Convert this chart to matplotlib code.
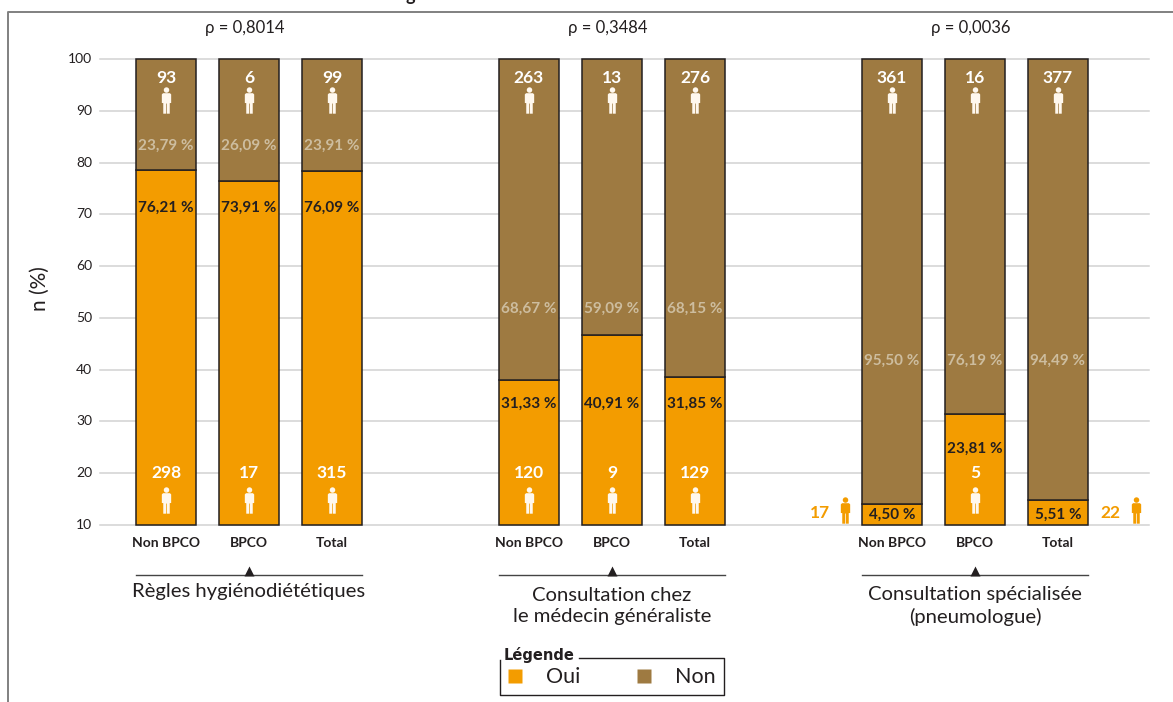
import matplotlib
matplotlib.use('Agg')
import matplotlib.pyplot as plt
from matplotlib.path import Path

W, H = 1173, 702
ORANGE = '#f39c00'
BROWN = '#9e7a41'
DARK = '#231f20'

groups = ['Règles hygiénodiététiques', 'Consultation chez\nle médecin généraliste',
          'Consultation spécialisée\n(pneumologue)']
rhos = ['ρ = 0,8014', 'ρ = 0,3484', 'ρ = 0,0036']
cats = ['Non BPCO', 'BPCO', 'Total']
oui_top = [78.5, 76.4, 78.4, 38.0, 46.7, 38.6, 14.0, 31.4, 14.8]
oui_pct = ['76,21 %', '73,91 %', '76,09 %', '31,33 %', '40,91 %', '31,85 %', '4,50 %', '23,81 %', '5,51 %']
non_pct = ['23,79 %', '26,09 %', '23,91 %', '68,67 %', '59,09 %', '68,15 %', '95,50 %', '76,19 %', '94,49 %']
oui_n = ['298', '17', '315', '120', '9', '129', '17', '5', '22']
non_n = ['93', '6', '99', '263', '13', '276', '361', '16', '377']
yticks = [10, 20, 30, 40, 50, 60, 70, 80, 90, 100]

# hauteur en pixels des etiquettes, barre par barre
non_label_px = [146] * 3 + [309] * 3 + [361] * 3
oui_label_px = [208] * 3 + [404] * 3 + [515, 449, 515]

SANS = ['Lato', 'DejaVu Sans']

# petit bonhomme, 1 unite = 1 pixel environ
person = Path.make_compound_path(
    Path.circle((0, 10.3), 2.7),
    Path([(-3.4, 7.2), (3.4, 7.2), (4.6, 6), (4.6, -2.5), (3.2, -2.5), (3.2, -13), (0.35, -13),
          (0.35, -3), (-0.35, -3), (-0.35, -13), (-3.2, -13), (-3.2, -2.5), (-4.6, -2.5),
          (-4.6, 6), (-3.4, 7.2)], closed=True))
PERSON_MS = 19


def py(p):
    return 100 - (p - 59) / 5.178


fig = plt.figure(figsize=(W / 100, H / 100), dpi=100)
ax = fig.add_axes([0, 0, 1, 1])
ax.set_xlim(0, W)
ax.set_ylim(py(H), py(0))
ax.axis('off')

# cadre : haut et gauche seulement
ax.plot([8, 8, W], [py(H), py(12), py(12)], color='#808080', lw=1.4, clip_on=False)

for t in yticks:
    ax.plot([100, 1149], [t, t], color='#d2d2d2', lw=1.1, zorder=1)
    ax.text(92, py(59) - (100 - t), str(t), ha='right', va='center', fontsize=10, family=SANS, color=DARK)
ax.text(40, py(289), 'n (%)', rotation=90, ha='center', va='center', fontsize=15, family=SANS, color=DARK)

centers = [166 + 363 * g + 83 * i for g in range(3) for i in range(3)]
for i, c in enumerate(centers):
    ax.bar(c, oui_top[i] - 10, bottom=10, width=60, color=ORANGE, edgecolor=DARK, lw=1.1, zorder=2)
    ax.bar(c, 100 - oui_top[i], bottom=oui_top[i], width=60, color=BROWN, edgecolor=DARK, lw=1.1, zorder=2)
    ax.text(c, py(78), non_n[i], ha='center', va='center', fontsize=12.5, weight='bold', family=SANS,
            color='white', zorder=3)
    ax.plot(c, py(100), marker=person, ms=PERSON_MS, mfc='#fff8ee', mec='none', zorder=3)
    ax.text(c, py(non_label_px[i]), non_pct[i], ha='center', va='center', fontsize=11, weight='bold',
            family=SANS, color='#cdbd9f', zorder=3)
    ax.text(c, py(oui_label_px[i]), oui_pct[i], ha='center', va='center', fontsize=11, weight='bold',
            family=SANS, color=DARK, zorder=3)
    if i not in (6, 8):
        ax.text(c, py(473), oui_n[i], ha='center', va='center', fontsize=12.5, weight='bold', family=SANS,
                color='white', zorder=3)
        ax.plot(c, py(500), marker=person, ms=PERSON_MS, mfc='#fff8ee', mec='none', zorder=3)
    ax.text(c, py(543), cats[i % 3], ha='center', va='center', fontsize=10, weight='bold', family=SANS, color=DARK)

# les deux effectifs hors barre
for i, xt, xp in [(6, 820, 844.5), (8, 1110, 1136)]:
    ax.text(xt, py(513), oui_n[i], ha='center', va='center', fontsize=12.5, weight='bold', family=SANS, color=ORANGE)
    ax.plot(xp, py(510), marker=person, ms=PERSON_MS, mfc=ORANGE, mec='none')

for g in range(3):
    c = centers[3 * g + 1]
    ax.text(c - 4, py(28), rhos[g], ha='center', va='center', fontsize=12, family=SANS, color=DARK)
    ax.plot([c - 113, c + 113], [py(575), py(575)], color='#444444', lw=1)
    ax.plot(c, py(570.5), marker='^', ms=7.5, color=DARK, mec='none')
    ax.text(c, py(592 if g == 0 else 606), groups[g], ha='center', va='center', fontsize=14.6,
            family=SANS, color=DARK, linespacing=1.35)

# legende
ax.plot([579, 724, 724, 500, 500], [py(658), py(658), py(695), py(695), py(660)], color=DARK, lw=1)
ax.text(504, py(655), 'Légende', ha='left', va='center', fontsize=10.5, weight='bold',
        family='DejaVu Sans', color=DARK)
ax.plot(515, py(676), marker='s', ms=9.5, color=ORANGE, mec='none')
ax.text(546, py(677), 'Oui', ha='left', va='center', fontsize=15.5, family=SANS, color=DARK)
ax.plot(643.5, py(676), marker='s', ms=9.5, color=BROWN, mec='none')
ax.text(675, py(677), 'Non', ha='left', va='center', fontsize=15.5, family=SANS, color=DARK)

# reste du titre coupe en haut
ax.text(410, py(-4), 'g', ha='center', va='center', fontsize=13, weight='bold', family=SANS, color=DARK)

fig.savefig('out.png', dpi=100)
